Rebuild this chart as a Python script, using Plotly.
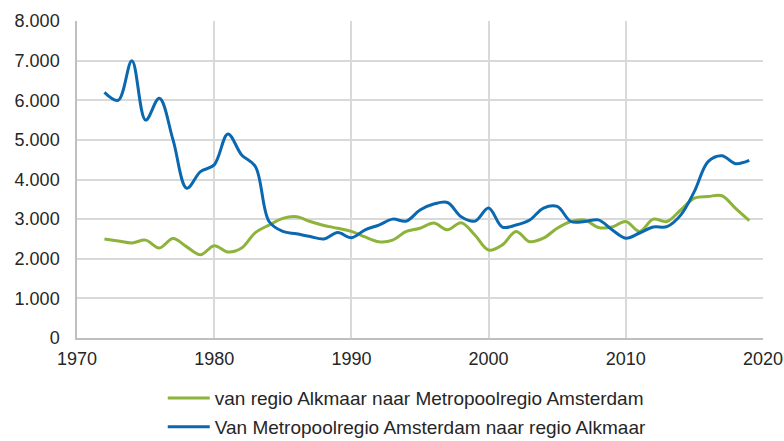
import plotly.graph_objects as go

years = list(range(1972, 2020))
alkmaar_naar_mra = [2500, 2450, 2400, 2470, 2270, 2510, 2300, 2100, 2330, 2170,
                    2270, 2660, 2850, 3020, 3060, 2940, 2840, 2770, 2690, 2550,
                    2430, 2470, 2690, 2770, 2900, 2730, 2910, 2600, 2220, 2350,
                    2690, 2430, 2520, 2770, 2940, 2980, 2790, 2800, 2940, 2690,
                    3000, 2940, 3230, 3530, 3570, 3590, 3270, 2960]
mra_naar_alkmaar = [6200, 6000, 7000, 5500, 6050, 5000, 3780, 4200, 4370, 5150,
                    4620, 4330, 2940, 2690, 2630, 2560, 2500, 2660, 2530, 2730,
                    2850, 3000, 2950, 3230, 3380, 3420, 3060, 2950, 3280, 2800,
                    2850, 2980, 3280, 3320, 2940, 2940, 2980, 2730, 2520, 2650,
                    2800, 2810, 3100, 3700, 4450, 4600, 4400, 4480]
names = ["van regio Alkmaar naar Metropoolregio Amsterdam",
         "Van Metropoolregio Amsterdam naar regio Alkmaar"]
y_ticks = [0, 1000, 2000, 3000, 4000, 5000, 6000, 7000, 8000]
x_ticks = [1970, 1980, 1990, 2000, 2010, 2020]

fig = go.Figure()
fig.add_trace(go.Scatter(x=years, y=alkmaar_naar_mra, name=names[0], mode="lines",
                         legendgroup="a",
                         line=dict(color="#8DB33A", width=3, shape="spline", smoothing=1.0)))
fig.add_trace(go.Scatter(x=years, y=mra_naar_alkmaar, name=names[1], mode="lines",
                         legendgroup="b",
                         line=dict(color="#0A68B1", width=3, shape="spline", smoothing=1.0)))

fig.update_layout(
    width=784, height=441,
    margin=dict(l=77, r=21, t=21, b=103, autoexpand=False),
    paper_bgcolor="white", plot_bgcolor="white",
    separators=",.",
    font=dict(family="Liberation Sans, Arial, sans-serif", size=18, color="#262626"),
    showlegend=True,
    legend=dict(orientation="v", x=0.125, xanchor="left", y=-0.13, yanchor="top",
                font=dict(size=19, color="#262626"), traceorder="grouped",
                tracegroupgap=1, itemwidth=42, bgcolor="rgba(0,0,0,0)"),
    xaxis=dict(range=[1970, 2020], tickvals=x_ticks, showgrid=True, gridcolor="#D9D9D9",
               gridwidth=1.5, showline=True, linecolor="#BFBFBF", linewidth=1.5,
               zeroline=False, ticks="outside", ticklen=4, tickcolor="rgba(0,0,0,0)",
               tickfont=dict(size=18), automargin=False),
    yaxis=dict(range=[0, 8000], tickvals=y_ticks, tickformat=",d", showgrid=True,
               gridcolor="#D9D9D9", gridwidth=1.5, showline=True, linecolor="#BFBFBF",
               linewidth=1.5, zeroline=False, ticks="outside", ticklen=12,
               tickcolor="rgba(0,0,0,0)", tickfont=dict(size=18), automargin=False),
)

fig.write_html("out.html", config={"displayModeBar": False},
               post_script="document.body.style.margin='0';")
